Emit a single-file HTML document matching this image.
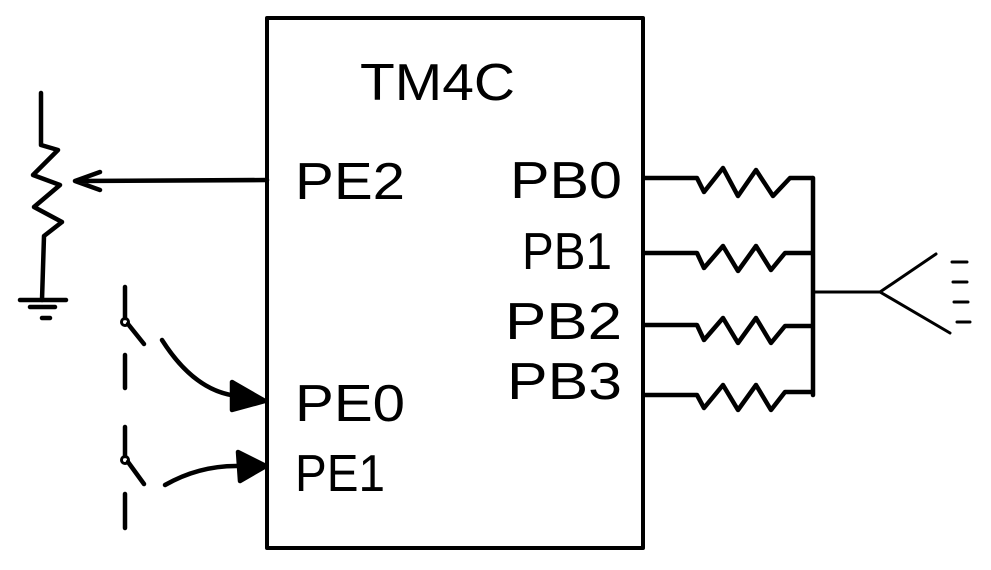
<!DOCTYPE html>
<html><head><style>body{margin:0;background:#fff}svg{display:block}text{font-family:"Liberation Sans",sans-serif;font-size:52px;fill:#000}</style></head>
<body><svg width="991" height="570" viewBox="0 0 991 570" fill="none" stroke="#000" stroke-width="4.5" stroke-linecap="round" stroke-linejoin="round">
<rect x="267" y="18" width="376" height="530" stroke-width="4"/>
<text x="360" y="100" textLength="155" lengthAdjust="spacingAndGlyphs" stroke="none">TM4C</text>
<text x="295" y="199" textLength="110" lengthAdjust="spacingAndGlyphs" stroke="none">PE2</text>
<text x="295" y="421" textLength="110" lengthAdjust="spacingAndGlyphs" stroke="none">PE0</text>
<text x="295" y="491" textLength="90" lengthAdjust="spacingAndGlyphs" stroke="none">PE1</text>
<text x="510" y="198" textLength="112" lengthAdjust="spacingAndGlyphs" stroke="none">PB0</text>
<text x="522" y="269" textLength="90" lengthAdjust="spacingAndGlyphs" stroke="none">PB1</text>
<text x="505" y="339" textLength="117" lengthAdjust="spacingAndGlyphs" stroke="none">PB2</text>
<text x="507" y="399" textLength="115" lengthAdjust="spacingAndGlyphs" stroke="none">PB3</text>
<path d="M41 93 L41 145 L58 150 L33 175 L60 185 L34 207 L62 222 L44 236 L42 300"/>
<path d="M20 300 H66 M30 307 H55 M42 318 H50"/>
<path d="M267 180 L75 181 M100 172 L75 181 L100 190"/>
<path d="M125 287 V318 M128 324 L144 344 M125 355 V388"/>
<circle cx="125" cy="322" r="3.5" stroke-width="3"/>
<path d="M125 427 V456 M128 462 L144 484 M125 494 V528"/>
<circle cx="125" cy="460" r="3.5" stroke-width="3"/>
<path d="M162 340 Q195 392 238 396"/>
<path d="M265 401 L232 382 L232 410 Z" fill="#000"/>
<path d="M165 485 Q200 465 240 466"/>
<path d="M266 466 L238 452 L240 481 Z" fill="#000"/>
<g>
<path d="M645 178 H697 L704 192 L723 168 L738 196 L756 170 L773 196 L790 178 H812"/>
<path d="M645 253 H697 L704 268 L723 246 L738 271 L756 246 L771 270 L785 253 H812"/>
<path d="M645 325 H697 L704 340 L723 318 L738 343 L756 318 L771 343 L785 326 H812"/>
<path d="M645 395 H697 L704 408 L723 385 L738 410 L756 385 L771 410 L785 392 H812"/>
<path d="M813 178 V395"/>
<path d="M813 292 H880 L936 254 M880 292 L950 333" stroke-width="3"/>
<path d="M952 262 H967 M953 282 H967 M954 302 H968 M957 322 H970" stroke-width="3"/>
</g>
</svg></body></html>
